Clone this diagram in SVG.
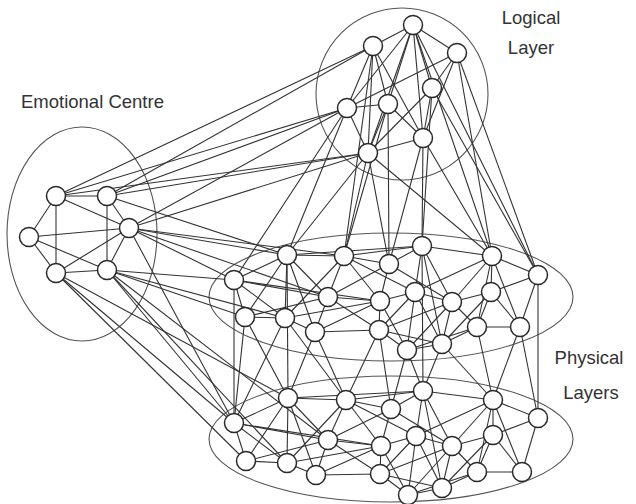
<svg xmlns="http://www.w3.org/2000/svg" width="636" height="504" viewBox="0 0 636 504">
<style>
  .bg{fill:#ffffff}
  .region{fill:none;stroke:#555;stroke-width:1.1}
  .edges line{stroke:#333;stroke-width:1.1}
  .node circle{fill:#ffffff;stroke:#2a2a2a;stroke-width:1.5}
  .label{font-family:"Liberation Sans",Arial,sans-serif;font-size:18.5px;fill:#333}
</style>
<rect class="bg" width="636" height="504"/>

<!-- region outlines -->
<g id="regions">
  <ellipse class="region" cx="82" cy="234" rx="75" ry="107"/>
  <circle class="region" cx="402" cy="94" r="86"/>
  <ellipse class="region" cx="391" cy="297" rx="182" ry="64"/>
  <ellipse class="region" cx="391" cy="439" rx="182" ry="63"/>
</g>

<!-- connectors -->
<g id="connectors" class="edges">
  <!-- logical layer -->
  <line x1="413" y1="25" x2="373" y2="46"/>
  <line x1="413" y1="25" x2="457" y2="53"/>
  <line x1="413" y1="25" x2="432" y2="88"/>
  <line x1="413" y1="25" x2="388" y2="104"/>
  <line x1="413" y1="25" x2="347" y2="108"/>
  <line x1="413" y1="25" x2="423" y2="138"/>
  <line x1="413" y1="25" x2="368" y2="153"/>
  <line x1="373" y1="46" x2="388" y2="104"/>
  <line x1="373" y1="46" x2="347" y2="108"/>
  <line x1="373" y1="46" x2="423" y2="138"/>
  <line x1="373" y1="46" x2="368" y2="153"/>
  <line x1="457" y1="53" x2="432" y2="88"/>
  <line x1="457" y1="53" x2="423" y2="138"/>
  <line x1="457" y1="53" x2="347" y2="108"/>
  <line x1="432" y1="88" x2="423" y2="138"/>
  <line x1="432" y1="88" x2="368" y2="153"/>
  <line x1="388" y1="104" x2="347" y2="108"/>
  <line x1="388" y1="104" x2="423" y2="138"/>
  <line x1="388" y1="104" x2="368" y2="153"/>
  <line x1="347" y1="108" x2="368" y2="153"/>
  <line x1="423" y1="138" x2="368" y2="153"/>

  <!-- emotional centre -->
  <line x1="56" y1="196" x2="107" y2="196"/>
  <line x1="56" y1="196" x2="29" y2="237"/>
  <line x1="56" y1="196" x2="56" y2="273"/>
  <line x1="56" y1="196" x2="129" y2="228"/>
  <line x1="107" y1="196" x2="129" y2="228"/>
  <line x1="107" y1="196" x2="107" y2="270"/>
  <line x1="29" y1="237" x2="129" y2="228"/>
  <line x1="29" y1="237" x2="56" y2="273"/>
  <line x1="29" y1="237" x2="107" y2="270"/>
  <line x1="129" y1="228" x2="107" y2="270"/>
  <line x1="129" y1="228" x2="56" y2="273"/>
  <line x1="56" y1="273" x2="107" y2="270"/>

  <!-- emotional centre to logical layer -->
  <line x1="56" y1="196" x2="373" y2="46"/>
  <line x1="56" y1="196" x2="347" y2="108"/>
  <line x1="107" y1="196" x2="373" y2="46"/>
  <line x1="107" y1="196" x2="347" y2="108"/>
  <line x1="107" y1="196" x2="368" y2="153"/>
  <line x1="129" y1="228" x2="347" y2="108"/>
  <line x1="129" y1="228" x2="368" y2="153"/>
  <line x1="56" y1="196" x2="368" y2="153"/>

  <!-- emotional centre to physical layers -->
  <line x1="129" y1="228" x2="287" y2="255"/>
  <line x1="129" y1="228" x2="234" y2="280"/>
  <line x1="129" y1="228" x2="344" y2="256"/>
  <line x1="107" y1="196" x2="287" y2="255"/>
  <line x1="107" y1="270" x2="234" y2="280"/>
  <line x1="107" y1="270" x2="245" y2="317"/>
  <line x1="107" y1="270" x2="285" y2="318"/>
  <line x1="129" y1="228" x2="328" y2="297"/>
  <line x1="107" y1="270" x2="234" y2="423"/>
  <line x1="56" y1="273" x2="234" y2="423"/>
  <line x1="56" y1="273" x2="246" y2="461"/>
  <line x1="107" y1="270" x2="287" y2="463"/>
  <line x1="129" y1="228" x2="234" y2="423"/>
  <line x1="107" y1="270" x2="328" y2="440"/>
  <line x1="56" y1="273" x2="288" y2="398"/>

  <!-- logical layer to physical layer -->
  <line x1="347" y1="108" x2="287" y2="255"/>
  <line x1="347" y1="108" x2="234" y2="280"/>
  <line x1="368" y1="153" x2="287" y2="255"/>
  <line x1="368" y1="153" x2="344" y2="256"/>
  <line x1="368" y1="153" x2="389" y2="264"/>
  <line x1="368" y1="153" x2="492" y2="256"/>
  <line x1="388" y1="104" x2="344" y2="256"/>
  <line x1="388" y1="104" x2="389" y2="264"/>
  <line x1="423" y1="138" x2="422" y2="246"/>
  <line x1="423" y1="138" x2="492" y2="256"/>
  <line x1="423" y1="138" x2="389" y2="264"/>
  <line x1="432" y1="88" x2="422" y2="246"/>
  <line x1="432" y1="88" x2="538" y2="275"/>
  <line x1="457" y1="53" x2="492" y2="256"/>
  <line x1="457" y1="53" x2="538" y2="275"/>
  <line x1="413" y1="25" x2="492" y2="256"/>
  <line x1="413" y1="25" x2="538" y2="275"/>
  <line x1="373" y1="46" x2="344" y2="256"/>

  <!-- physical layer 1 -->
  <line x1="234" y1="280" x2="287" y2="255"/>
  <line x1="287" y1="255" x2="344" y2="256"/>
  <line x1="344" y1="256" x2="389" y2="264"/>
  <line x1="389" y1="264" x2="422" y2="246"/>
  <line x1="422" y1="246" x2="492" y2="256"/>
  <line x1="492" y1="256" x2="538" y2="275"/>
  <line x1="234" y1="280" x2="245" y2="317"/>
  <line x1="234" y1="280" x2="285" y2="318"/>
  <line x1="234" y1="280" x2="328" y2="297"/>
  <line x1="287" y1="255" x2="245" y2="317"/>
  <line x1="287" y1="255" x2="285" y2="318"/>
  <line x1="287" y1="255" x2="315" y2="332"/>
  <line x1="287" y1="255" x2="328" y2="297"/>
  <line x1="344" y1="256" x2="328" y2="297"/>
  <line x1="344" y1="256" x2="285" y2="318"/>
  <line x1="344" y1="256" x2="380" y2="301"/>
  <line x1="389" y1="264" x2="328" y2="297"/>
  <line x1="389" y1="264" x2="380" y2="301"/>
  <line x1="389" y1="264" x2="452" y2="302"/>
  <line x1="245" y1="317" x2="285" y2="318"/>
  <line x1="285" y1="318" x2="315" y2="332"/>
  <line x1="328" y1="297" x2="315" y2="332"/>
  <line x1="315" y1="332" x2="380" y2="301"/>
  <line x1="315" y1="332" x2="379" y2="330"/>
  <line x1="245" y1="317" x2="328" y2="297"/>
  <line x1="422" y1="246" x2="415" y2="292"/>
  <line x1="422" y1="246" x2="452" y2="302"/>
  <line x1="422" y1="246" x2="442" y2="344"/>
  <line x1="492" y1="256" x2="491" y2="292"/>
  <line x1="492" y1="256" x2="452" y2="302"/>
  <line x1="492" y1="256" x2="477" y2="327"/>
  <line x1="492" y1="256" x2="520" y2="327"/>
  <line x1="492" y1="256" x2="415" y2="292"/>
  <line x1="538" y1="275" x2="491" y2="292"/>
  <line x1="538" y1="275" x2="520" y2="327"/>
  <line x1="491" y1="292" x2="452" y2="302"/>
  <line x1="491" y1="292" x2="520" y2="327"/>
  <line x1="491" y1="292" x2="477" y2="327"/>
  <line x1="491" y1="292" x2="442" y2="344"/>
  <line x1="477" y1="327" x2="520" y2="327"/>
  <line x1="442" y1="344" x2="477" y2="327"/>
  <line x1="442" y1="344" x2="452" y2="302"/>
  <line x1="452" y1="302" x2="415" y2="292"/>
  <line x1="442" y1="344" x2="407" y2="350"/>
  <line x1="415" y1="292" x2="407" y2="350"/>
  <line x1="380" y1="301" x2="379" y2="330"/>
  <line x1="380" y1="301" x2="415" y2="292"/>
  <line x1="379" y1="330" x2="407" y2="350"/>
  <line x1="380" y1="301" x2="407" y2="350"/>
  <line x1="379" y1="330" x2="415" y2="292"/>
  <line x1="328" y1="297" x2="380" y2="301"/>
  <line x1="379" y1="330" x2="442" y2="344"/>
  <line x1="452" y1="302" x2="407" y2="350"/>
  <line x1="415" y1="292" x2="442" y2="344"/>
  <line x1="344" y1="256" x2="415" y2="292"/>
  <line x1="287" y1="255" x2="422" y2="246"/>
  <line x1="234" y1="280" x2="380" y2="301"/>
  <line x1="328" y1="297" x2="379" y2="330"/>
  <line x1="379" y1="330" x2="452" y2="302"/>
  <line x1="285" y1="318" x2="380" y2="301"/>
  <line x1="344" y1="256" x2="422" y2="246"/>
  <line x1="452" y1="302" x2="477" y2="327"/>
  <line x1="407" y1="350" x2="477" y2="327"/>

  <!-- physical layer 1 to physical layer 2 -->
  <line x1="287" y1="255" x2="288" y2="398"/>
  <line x1="245" y1="317" x2="234" y2="423"/>
  <line x1="285" y1="318" x2="234" y2="423"/>
  <line x1="315" y1="332" x2="288" y2="398"/>
  <line x1="315" y1="332" x2="346" y2="400"/>
  <line x1="379" y1="330" x2="346" y2="400"/>
  <line x1="379" y1="330" x2="391" y2="409"/>
  <line x1="407" y1="350" x2="423" y2="391"/>
  <line x1="407" y1="350" x2="391" y2="409"/>
  <line x1="442" y1="344" x2="423" y2="391"/>
  <line x1="477" y1="327" x2="493" y2="400"/>
  <line x1="520" y1="327" x2="493" y2="400"/>
  <line x1="520" y1="327" x2="538" y2="418"/>
  <line x1="538" y1="275" x2="538" y2="418"/>
  <line x1="422" y1="246" x2="423" y2="391"/>
  <line x1="234" y1="280" x2="234" y2="423"/>
  <line x1="245" y1="317" x2="288" y2="398"/>
  <line x1="442" y1="344" x2="493" y2="400"/>
  <line x1="285" y1="318" x2="346" y2="400"/>

  <!-- physical layer 2 -->
  <line x1="234" y1="423" x2="288" y2="398"/>
  <line x1="288" y1="398" x2="346" y2="400"/>
  <line x1="346" y1="400" x2="391" y2="409"/>
  <line x1="391" y1="409" x2="423" y2="391"/>
  <line x1="423" y1="391" x2="493" y2="400"/>
  <line x1="493" y1="400" x2="538" y2="418"/>
  <line x1="234" y1="423" x2="246" y2="461"/>
  <line x1="234" y1="423" x2="287" y2="463"/>
  <line x1="234" y1="423" x2="328" y2="440"/>
  <line x1="288" y1="398" x2="246" y2="461"/>
  <line x1="288" y1="398" x2="287" y2="463"/>
  <line x1="288" y1="398" x2="316" y2="475"/>
  <line x1="288" y1="398" x2="328" y2="440"/>
  <line x1="346" y1="400" x2="328" y2="440"/>
  <line x1="346" y1="400" x2="287" y2="463"/>
  <line x1="346" y1="400" x2="381" y2="446"/>
  <line x1="391" y1="409" x2="328" y2="440"/>
  <line x1="391" y1="409" x2="381" y2="446"/>
  <line x1="391" y1="409" x2="452" y2="446"/>
  <line x1="246" y1="461" x2="287" y2="463"/>
  <line x1="287" y1="463" x2="316" y2="475"/>
  <line x1="328" y1="440" x2="316" y2="475"/>
  <line x1="316" y1="475" x2="381" y2="446"/>
  <line x1="316" y1="475" x2="380" y2="474"/>
  <line x1="246" y1="461" x2="328" y2="440"/>
  <line x1="423" y1="391" x2="416" y2="436"/>
  <line x1="423" y1="391" x2="452" y2="446"/>
  <line x1="423" y1="391" x2="442" y2="488"/>
  <line x1="493" y1="400" x2="493" y2="435"/>
  <line x1="493" y1="400" x2="452" y2="446"/>
  <line x1="493" y1="400" x2="477" y2="472"/>
  <line x1="493" y1="400" x2="522" y2="472"/>
  <line x1="493" y1="400" x2="416" y2="436"/>
  <line x1="538" y1="418" x2="493" y2="435"/>
  <line x1="538" y1="418" x2="522" y2="472"/>
  <line x1="493" y1="435" x2="452" y2="446"/>
  <line x1="493" y1="435" x2="522" y2="472"/>
  <line x1="493" y1="435" x2="477" y2="472"/>
  <line x1="493" y1="435" x2="442" y2="488"/>
  <line x1="477" y1="472" x2="522" y2="472"/>
  <line x1="442" y1="488" x2="477" y2="472"/>
  <line x1="442" y1="488" x2="452" y2="446"/>
  <line x1="452" y1="446" x2="416" y2="436"/>
  <line x1="442" y1="488" x2="408" y2="495"/>
  <line x1="416" y1="436" x2="408" y2="495"/>
  <line x1="381" y1="446" x2="380" y2="474"/>
  <line x1="381" y1="446" x2="416" y2="436"/>
  <line x1="380" y1="474" x2="408" y2="495"/>
  <line x1="381" y1="446" x2="408" y2="495"/>
  <line x1="380" y1="474" x2="416" y2="436"/>
  <line x1="328" y1="440" x2="381" y2="446"/>
  <line x1="380" y1="474" x2="442" y2="488"/>
  <line x1="452" y1="446" x2="408" y2="495"/>
  <line x1="416" y1="436" x2="442" y2="488"/>
  <line x1="346" y1="400" x2="416" y2="436"/>
  <line x1="288" y1="398" x2="423" y2="391"/>
  <line x1="234" y1="423" x2="381" y2="446"/>
  <line x1="328" y1="440" x2="380" y2="474"/>
  <line x1="380" y1="474" x2="452" y2="446"/>
  <line x1="287" y1="463" x2="381" y2="446"/>
  <line x1="346" y1="400" x2="423" y2="391"/>
  <line x1="452" y1="446" x2="477" y2="472"/>
  <line x1="408" y1="495" x2="477" y2="472"/>
</g>

<!-- logical layer nodes -->
<g id="logical-1" class="node"><circle cx="413" cy="25" r="9.5"/></g>
<g id="logical-2" class="node"><circle cx="373" cy="46" r="9.5"/></g>
<g id="logical-3" class="node"><circle cx="457" cy="53" r="9.5"/></g>
<g id="logical-4" class="node"><circle cx="432" cy="88" r="9.5"/></g>
<g id="logical-5" class="node"><circle cx="388" cy="104" r="9.5"/></g>
<g id="logical-6" class="node"><circle cx="347" cy="108" r="9.5"/></g>
<g id="logical-7" class="node"><circle cx="423" cy="138" r="9.5"/></g>
<g id="logical-8" class="node"><circle cx="368" cy="153" r="9.5"/></g>

<!-- emotional centre nodes -->
<g id="emotional-1" class="node"><circle cx="56" cy="196" r="9.5"/></g>
<g id="emotional-2" class="node"><circle cx="107" cy="196" r="9.5"/></g>
<g id="emotional-3" class="node"><circle cx="129" cy="228" r="9.5"/></g>
<g id="emotional-4" class="node"><circle cx="29" cy="237" r="9.5"/></g>
<g id="emotional-5" class="node"><circle cx="56" cy="273" r="9.5"/></g>
<g id="emotional-6" class="node"><circle cx="107" cy="270" r="9.5"/></g>

<!-- physical layer 1 nodes -->
<g id="phys1-0" class="node"><circle cx="287" cy="255" r="9.5"/></g>
<g id="phys1-1" class="node"><circle cx="344" cy="256" r="9.5"/></g>
<g id="phys1-2" class="node"><circle cx="389" cy="264" r="9.5"/></g>
<g id="phys1-3" class="node"><circle cx="422" cy="246" r="9.5"/></g>
<g id="phys1-4" class="node"><circle cx="492" cy="256" r="9.5"/></g>
<g id="phys1-5" class="node"><circle cx="538" cy="275" r="9.5"/></g>
<g id="phys1-6" class="node"><circle cx="234" cy="280" r="9.5"/></g>
<g id="phys1-7" class="node"><circle cx="328" cy="297" r="9.5"/></g>
<g id="phys1-8" class="node"><circle cx="380" cy="301" r="9.5"/></g>
<g id="phys1-9" class="node"><circle cx="415" cy="292" r="9.5"/></g>
<g id="phys1-10" class="node"><circle cx="452" cy="302" r="9.5"/></g>
<g id="phys1-11" class="node"><circle cx="491" cy="292" r="9.5"/></g>
<g id="phys1-12" class="node"><circle cx="245" cy="317" r="9.5"/></g>
<g id="phys1-13" class="node"><circle cx="285" cy="318" r="9.5"/></g>
<g id="phys1-14" class="node"><circle cx="315" cy="332" r="9.5"/></g>
<g id="phys1-15" class="node"><circle cx="379" cy="330" r="9.5"/></g>
<g id="phys1-16" class="node"><circle cx="407" cy="350" r="9.5"/></g>
<g id="phys1-17" class="node"><circle cx="442" cy="344" r="9.5"/></g>
<g id="phys1-18" class="node"><circle cx="477" cy="327" r="9.5"/></g>
<g id="phys1-19" class="node"><circle cx="520" cy="327" r="9.5"/></g>

<!-- physical layer 2 nodes -->
<g id="phys2-0" class="node"><circle cx="288" cy="398" r="9.5"/></g>
<g id="phys2-1" class="node"><circle cx="346" cy="400" r="9.5"/></g>
<g id="phys2-2" class="node"><circle cx="391" cy="409" r="9.5"/></g>
<g id="phys2-3" class="node"><circle cx="423" cy="391" r="9.5"/></g>
<g id="phys2-4" class="node"><circle cx="493" cy="400" r="9.5"/></g>
<g id="phys2-5" class="node"><circle cx="538" cy="418" r="9.5"/></g>
<g id="phys2-6" class="node"><circle cx="234" cy="423" r="9.5"/></g>
<g id="phys2-7" class="node"><circle cx="328" cy="440" r="9.5"/></g>
<g id="phys2-8" class="node"><circle cx="381" cy="446" r="9.5"/></g>
<g id="phys2-9" class="node"><circle cx="416" cy="436" r="9.5"/></g>
<g id="phys2-10" class="node"><circle cx="452" cy="446" r="9.5"/></g>
<g id="phys2-11" class="node"><circle cx="493" cy="435" r="9.5"/></g>
<g id="phys2-12" class="node"><circle cx="246" cy="461" r="9.5"/></g>
<g id="phys2-13" class="node"><circle cx="287" cy="463" r="9.5"/></g>
<g id="phys2-14" class="node"><circle cx="316" cy="475" r="9.5"/></g>
<g id="phys2-15" class="node"><circle cx="380" cy="474" r="9.5"/></g>
<g id="phys2-16" class="node"><circle cx="408" cy="495" r="9.5"/></g>
<g id="phys2-17" class="node"><circle cx="442" cy="488" r="9.5"/></g>
<g id="phys2-18" class="node"><circle cx="477" cy="472" r="9.5"/></g>
<g id="phys2-19" class="node"><circle cx="522" cy="472" r="9.5"/></g>

<!-- labels -->
<g id="labels">
  <text class="label" x="21" y="108">Emotional Centre</text>
  <text class="label" x="531" y="24" text-anchor="middle">Logical</text>
  <text class="label" x="531" y="54" text-anchor="middle">Layer</text>
  <text class="label" x="589" y="364" text-anchor="middle">Physical</text>
  <text class="label" x="591" y="399" text-anchor="middle">Layers</text>
</g>
</svg>
